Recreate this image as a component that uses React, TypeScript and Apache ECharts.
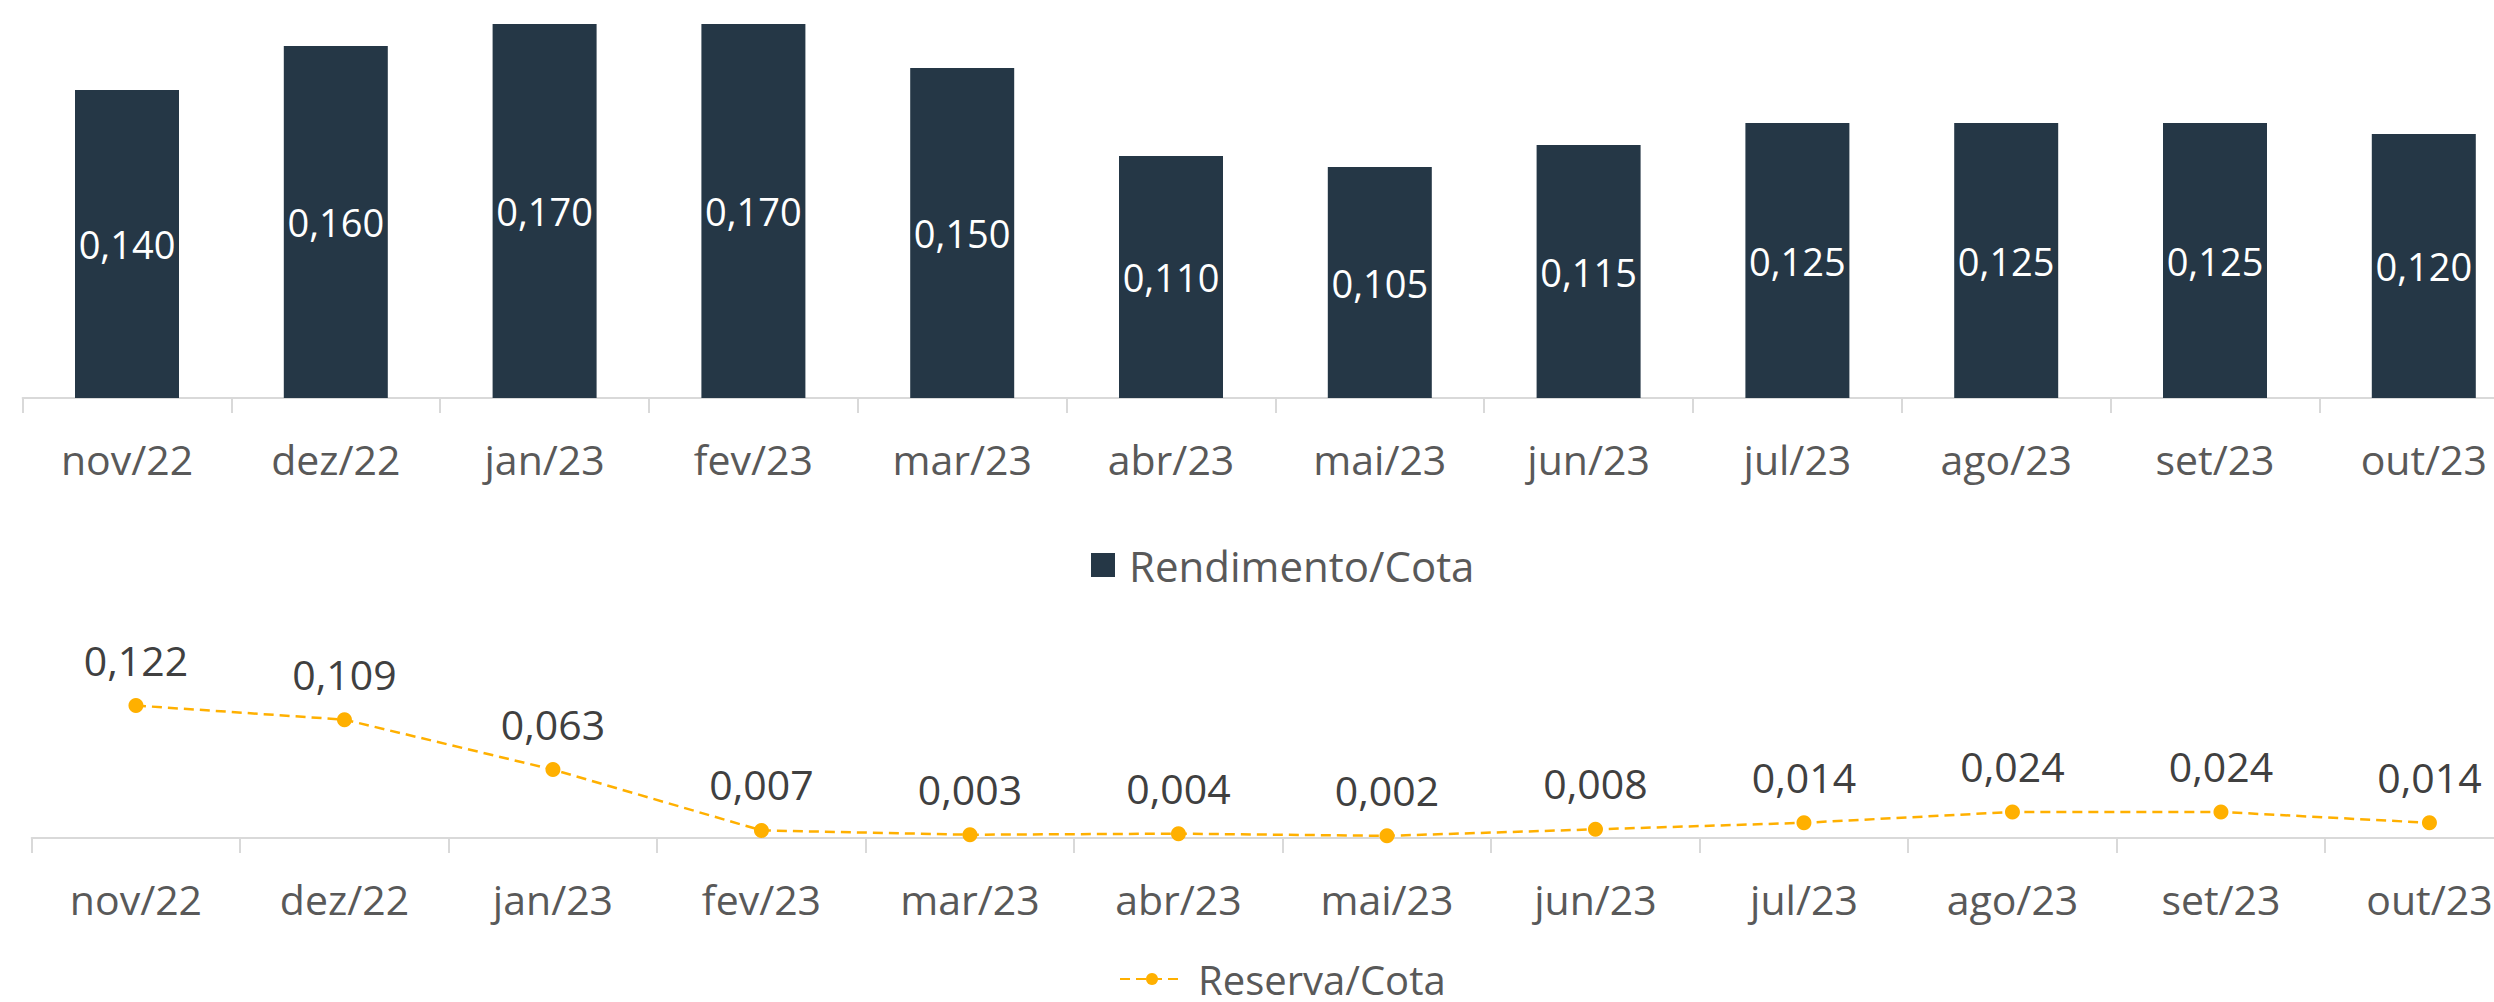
import React, { useEffect, useRef } from "react";
import * as echarts from "echarts";

const months = ["nov/22", "dez/22", "jan/23", "fev/23", "mar/23", "abr/23", "mai/23", "jun/23", "jul/23", "ago/23", "set/23", "out/23"];
const rendimento = [0.14, 0.16, 0.17, 0.17, 0.15, 0.11, 0.105, 0.115, 0.125, 0.125, 0.125, 0.12];
const reserva = [0.122, 0.109, 0.063, 0.007, 0.003, 0.004, 0.002, 0.008, 0.014, 0.024, 0.024, 0.014];

const fmt = (v: number) => v.toFixed(3).replace(".", ",");
const FONT = "Open Sans";

export default function App() {
  const ref = useRef<HTMLDivElement>(null);
  useEffect(() => {
    document.body.style.margin = "0";
    const chart = echarts.init(ref.current!, undefined, { renderer: "svg" });
    const axisCommon = {
      type: "category" as const,
      data: months,
      axisLine: { lineStyle: { color: "#d9d9d9", width: 2 } },
      axisTick: { show: true, length: 15, lineStyle: { color: "#d9d9d9", width: 2 } },
    };
    chart.setOption({
      animation: false,
      backgroundColor: "#ffffff",
      grid: [
        { left: 22.6, top: 2, width: 2505.6, height: 396 },
        { left: 31.7, top: 686, width: 2502, height: 152 },
      ],
      xAxis: [
        {
          ...axisCommon,
          gridIndex: 0,
          axisLabel: { color: "#595959", fontSize: 41, fontFamily: FONT, margin: 40 },
        },
        {
          ...axisCommon,
          gridIndex: 1,
          axisLabel: { color: "#595959", fontSize: 41, fontFamily: FONT, margin: 40 },
        },
      ],
      yAxis: [
        { type: "value", gridIndex: 0, min: 0, max: 0.18, show: false, splitLine: { show: false } },
        { type: "value", gridIndex: 1, min: 0, max: 0.14, show: false, splitLine: { show: false } },
      ],
      legend: [
        {
          data: [{ name: "Rendimento/Cota", icon: "rect" }],
          top: 543,
          left: 1091,
          padding: 0,
          itemWidth: 24,
          itemHeight: 24,
          textStyle: { color: "#595959", fontSize: 42, fontFamily: FONT, padding: [0, 0, 0, 9], lineHeight: 44 },
        },
        {
          data: ["Reserva/Cota"],
          top: 959,
          left: 1119,
          padding: 0,
          itemWidth: 64,
          itemHeight: 15,
          textStyle: { color: "#595959", fontSize: 40, fontFamily: FONT, padding: [0, 0, 0, 9], lineHeight: 36 },
        },
      ],
      series: [
        {
          name: "Rendimento/Cota",
          type: "bar",
          xAxisIndex: 0,
          yAxisIndex: 0,
          data: rendimento,
          barWidth: 104,
          itemStyle: { color: "#253746" },
          label: {
            show: true,
            position: "inside",
            color: "#ffffff",
            fontSize: 38,
            fontFamily: FONT,
            formatter: (p: any) => fmt(p.value),
          },
        },
        {
          name: "Reserva/Cota",
          type: "line",
          xAxisIndex: 1,
          yAxisIndex: 1,
          data: reserva,
          symbol: "circle",
          symbolSize: 15,
          itemStyle: { color: "#FFB000" },
          lineStyle: { color: "#FFB000", width: 2.5, type: [10, 6] },
          label: {
            show: true,
            position: "top",
            distance: 18,
            color: "#404040",
            fontSize: 41,
            fontFamily: FONT,
            formatter: (p: any) => fmt(p.value),
          },
        },
      ],
    });
    return () => chart.dispose();
  }, []);
  return (
    <div style={{ position: "absolute", left: 0, top: 0, width: 2494, height: 1002, overflow: "hidden", background: "#fff" }}>
      <div ref={ref} style={{ width: 2600, height: 1002 }} />
    </div>
  );
}
